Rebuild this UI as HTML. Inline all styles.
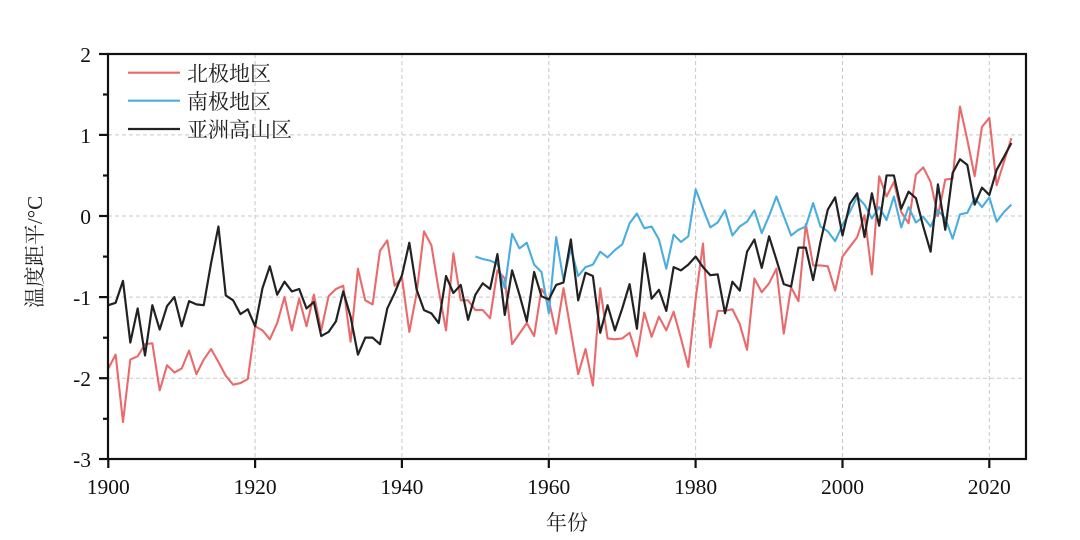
<!DOCTYPE html>
<html>
<head>
<meta charset="utf-8">
<style>
html,body{margin:0;padding:0;background:#fff;}
svg{display:block;}
.tk{font-family:"Liberation Serif","Noto Serif CJK SC",serif;font-size:21.5px;fill:#111;}
.cj{font-family:"Liberation Serif","Noto Serif CJK SC",serif;font-size:21px;fill:#222;}
</style>
</head>
<body>
<svg width="1080" height="540" viewBox="0 0 1080 540" xmlns="http://www.w3.org/2000/svg">
<rect width="1080" height="540" fill="#fff"/>
<!-- grid -->
<g stroke="#c8c8c8" stroke-width="1" stroke-dasharray="4,3" fill="none">
<line x1="108" y1="134.9" x2="1026" y2="134.9"/>
<line x1="108" y1="216" x2="1026" y2="216"/>
<line x1="108" y1="297.1" x2="1026" y2="297.1"/>
<line x1="108" y1="378.2" x2="1026" y2="378.2"/>
<line x1="255.1" y1="54" x2="255.1" y2="459"/>
<line x1="401.9" y1="54" x2="401.9" y2="459"/>
<line x1="548.8" y1="54" x2="548.8" y2="459"/>
<line x1="695.6" y1="54" x2="695.6" y2="459"/>
<line x1="842.5" y1="54" x2="842.5" y2="459"/>
<line x1="989.3" y1="54" x2="989.3" y2="459"/>
</g>
<!-- series -->
<g transform="translate(108.3,216) scale(7.342,-81.1)" fill="none" stroke-linejoin="round">
<polyline vector-effect="non-scaling-stroke" stroke="#ea6a6c" stroke-width="2.1" points="0,-1.88 1,-1.71 2,-2.54 3,-1.77 4,-1.73 5,-1.58 6,-1.57 7,-2.15 8,-1.84 9,-1.93 10,-1.88 11,-1.66 12,-1.95 13,-1.77 14,-1.64 15,-1.80 16,-1.97 17,-2.08 18,-2.06 19,-2.01 20,-1.36 21,-1.41 22,-1.52 23,-1.32 24,-1.00 25,-1.41 26,-1.02 27,-1.36 28,-0.97 29,-1.41 30,-0.99 31,-0.90 32,-0.86 33,-1.55 34,-0.65 35,-1.04 36,-1.09 37,-0.43 38,-0.30 39,-0.86 40,-0.76 41,-1.43 42,-0.95 43,-0.19 44,-0.36 45,-0.91 46,-1.41 47,-0.46 48,-1.04 49,-1.04 50,-1.16 51,-1.16 52,-1.26 53,-0.67 54,-0.77 55,-1.58 56,-1.45 57,-1.32 58,-1.48 59,-0.90 60,-1.04 61,-1.45 62,-0.89 63,-1.42 64,-1.95 65,-1.64 66,-2.09 67,-0.89 68,-1.51 69,-1.52 70,-1.51 71,-1.44 72,-1.73 73,-1.19 74,-1.49 75,-1.24 76,-1.41 77,-1.18 78,-1.51 79,-1.86 80,-1.02 81,-0.34 82,-1.62 83,-1.17 84,-1.17 85,-1.15 86,-1.33 87,-1.65 88,-0.77 89,-0.94 90,-0.83 91,-0.65 92,-1.45 93,-0.88 94,-1.05 95,-0.10 96,-0.61 97,-0.61 98,-0.62 99,-0.92 100,-0.50 101,-0.38 102,-0.26 103,0.01 104,-0.72 105,0.49 106,0.24 107,0.42 108,0.05 109,-0.09 110,0.51 111,0.60 112,0.42 113,0.00 114,0.45 115,0.46 116,1.35 117,0.94 118,0.49 119,1.10 120,1.21 121,0.38 122,0.67 123,0.96"/>
<polyline vector-effect="non-scaling-stroke" stroke="#4badde" stroke-width="2.1" points="50,-0.50 51,-0.53 52,-0.55 53,-0.59 54,-0.89 55,-0.22 56,-0.40 57,-0.33 58,-0.60 59,-0.69 60,-1.20 61,-0.26 62,-0.79 63,-0.40 64,-0.74 65,-0.63 66,-0.60 67,-0.44 68,-0.51 69,-0.42 70,-0.35 71,-0.09 72,0.03 73,-0.15 74,-0.13 75,-0.29 76,-0.65 77,-0.23 78,-0.32 79,-0.25 80,0.33 81,0.09 82,-0.14 83,-0.08 84,0.07 85,-0.24 86,-0.13 87,-0.07 88,0.07 89,-0.21 90,0.00 91,0.24 92,0.00 93,-0.24 94,-0.17 95,-0.13 96,0.16 97,-0.13 98,-0.19 99,-0.31 100,-0.11 101,0.05 102,0.24 103,0.14 104,-0.03 105,0.11 106,-0.05 107,0.24 108,-0.14 109,0.11 110,-0.08 111,-0.01 112,-0.13 113,0.07 114,-0.03 115,-0.28 116,0.02 117,0.04 118,0.22 119,0.11 120,0.23 121,-0.07 122,0.05 123,0.14"/>
<polyline vector-effect="non-scaling-stroke" stroke="#222222" stroke-width="2.2" points="0,-1.10 1,-1.07 2,-0.80 3,-1.56 4,-1.14 5,-1.72 6,-1.10 7,-1.40 8,-1.11 9,-1.00 10,-1.36 11,-1.05 12,-1.09 13,-1.10 14,-0.58 15,-0.13 16,-0.98 17,-1.04 18,-1.21 19,-1.15 20,-1.36 21,-0.89 22,-0.62 23,-0.97 24,-0.81 25,-0.93 26,-0.90 27,-1.14 28,-1.06 29,-1.48 30,-1.43 31,-1.30 32,-0.93 33,-1.24 34,-1.71 35,-1.50 36,-1.50 37,-1.58 38,-1.14 39,-0.95 40,-0.73 41,-0.33 42,-0.91 43,-1.16 44,-1.20 45,-1.32 46,-0.74 47,-0.95 48,-0.85 49,-1.28 50,-0.97 51,-0.83 52,-0.90 53,-0.47 54,-1.22 55,-0.67 56,-0.97 57,-1.30 58,-0.69 59,-0.99 60,-1.03 61,-0.85 62,-0.82 63,-0.29 64,-1.04 65,-0.70 66,-0.74 67,-1.44 68,-1.10 69,-1.41 70,-1.14 71,-0.84 72,-1.39 73,-0.46 74,-1.02 75,-0.91 76,-1.17 77,-0.63 78,-0.67 79,-0.60 80,-0.50 81,-0.63 82,-0.73 83,-0.72 84,-1.20 85,-0.81 86,-0.92 87,-0.44 88,-0.29 89,-0.64 90,-0.25 91,-0.54 92,-0.84 93,-0.87 94,-0.39 95,-0.39 96,-0.79 97,-0.32 98,0.08 99,0.23 100,-0.24 101,0.15 102,0.28 103,-0.26 104,0.28 105,-0.12 106,0.50 107,0.50 108,0.09 109,0.30 110,0.22 111,-0.13 112,-0.44 113,0.39 114,-0.17 115,0.53 116,0.70 117,0.63 118,0.14 119,0.35 120,0.26 121,0.57 122,0.73 123,0.90"/>
</g>
<!-- frame -->
<rect x="108" y="54" width="918" height="405" fill="none" stroke="#111" stroke-width="2.2"/>
<!-- ticks -->
<g stroke="#111" stroke-width="2.2">
<line x1="99" y1="54" x2="108" y2="54"/>
<line x1="99" y1="134.9" x2="108" y2="134.9"/>
<line x1="99" y1="216" x2="108" y2="216"/>
<line x1="99" y1="297.1" x2="108" y2="297.1"/>
<line x1="99" y1="378.2" x2="108" y2="378.2"/>
<line x1="99" y1="459" x2="108" y2="459"/>
<line x1="103" y1="94.5" x2="108" y2="94.5"/>
<line x1="103" y1="175.5" x2="108" y2="175.5"/>
<line x1="103" y1="256.6" x2="108" y2="256.6"/>
<line x1="103" y1="337.7" x2="108" y2="337.7"/>
<line x1="103" y1="418.8" x2="108" y2="418.8"/>
<line x1="108.3" y1="459" x2="108.3" y2="468"/>
<line x1="255.1" y1="459" x2="255.1" y2="468"/>
<line x1="401.9" y1="459" x2="401.9" y2="468"/>
<line x1="548.8" y1="459" x2="548.8" y2="468"/>
<line x1="695.6" y1="459" x2="695.6" y2="468"/>
<line x1="842.5" y1="459" x2="842.5" y2="468"/>
<line x1="989.3" y1="459" x2="989.3" y2="468"/>
</g>
<!-- y tick labels -->
<g class="tk" text-anchor="end">
<text x="91" y="62">2</text>
<text x="91" y="143">1</text>
<text x="91" y="224">0</text>
<text x="91" y="305">-1</text>
<text x="91" y="386">-2</text>
<text x="91" y="467">-3</text>
</g>
<!-- x tick labels -->
<g class="tk" text-anchor="middle">
<text x="108.3" y="494">1900</text>
<text x="255.1" y="494">1920</text>
<text x="401.9" y="494">1940</text>
<text x="548.8" y="494">1960</text>
<text x="695.6" y="494">1980</text>
<text x="842.5" y="494">2000</text>
<text x="989.3" y="494">2020</text>
</g>
<!-- axis labels -->
<text class="cj" x="567" y="530" text-anchor="middle">年份</text>
<text class="cj" transform="translate(42,252) rotate(-90)" text-anchor="middle">温度距平/°C</text>
<!-- legend -->
<line x1="128" y1="72.7" x2="180" y2="72.7" stroke="#ea6a6c" stroke-width="2.2"/>
<line x1="128" y1="100.7" x2="180" y2="100.7" stroke="#4badde" stroke-width="2.2"/>
<line x1="128" y1="129" x2="180" y2="129" stroke="#222" stroke-width="2.2"/>
<text class="cj" x="187" y="81">北极地区</text>
<text class="cj" x="187" y="109">南极地区</text>
<text class="cj" x="187" y="137">亚洲高山区</text>
</svg>
</body>
</html>
